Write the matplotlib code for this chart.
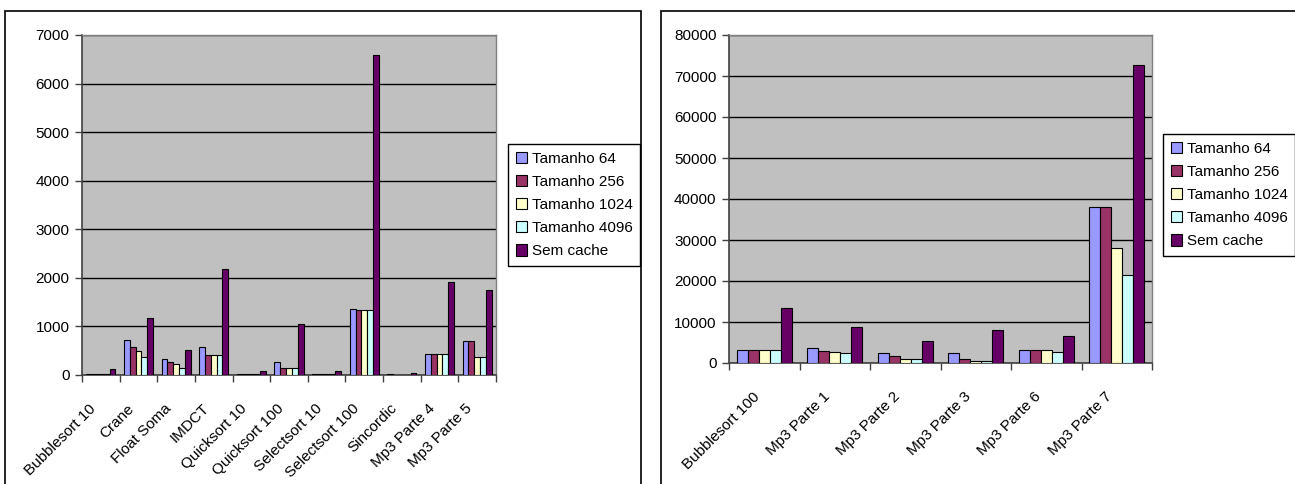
import numpy as np
import matplotlib.pyplot as plt
from matplotlib.patches import Rectangle
from matplotlib.transforms import ScaledTranslation

plt.rcParams['font.family'] = ['Liberation Sans', 'DejaVu Sans']

# Dados - grafico da esquerda
categorias_esq = ['Bubblesort 10', 'Crane', 'Float Soma', 'IMDCT', 'Quicksort 10',
                  'Quicksort 100', 'Selectsort 10', 'Selectsort 100', 'Sincordic',
                  'Mp3 Parte 4', 'Mp3 Parte 5']
t64_esq = [20, 720, 320, 585, 20, 275, 20, 1365, 15, 430, 700]
t256_esq = [20, 585, 275, 405, 20, 135, 20, 1345, 0, 430, 700]
t1024_esq = [20, 500, 220, 405, 20, 135, 20, 1345, 0, 430, 375]
t4096_esq = [20, 375, 150, 405, 20, 135, 20, 1345, 0, 430, 375]
sem_cache_esq = [115, 1170, 515, 2180, 75, 1040, 90, 6590, 45, 1910, 1750]

# Dados - grafico da direita
categorias_dir = ['Bubblesort 100', 'Mp3 Parte 1', 'Mp3 Parte 2', 'Mp3 Parte 3',
                  'Mp3 Parte 6', 'Mp3 Parte 7']
t64_dir = [3250, 3550, 2450, 2450, 3250, 38100]
t256_dir = [3250, 3000, 1600, 1050, 3250, 38100]
t1024_dir = [3250, 2650, 950, 450, 3250, 28050]
t4096_dir = [3250, 2450, 950, 450, 2700, 21500]
sem_cache_dir = [13300, 8850, 5250, 8050, 6650, 72600]

nomes = ['Tamanho 64', 'Tamanho 256', 'Tamanho 1024', 'Tamanho 4096', 'Sem cache']
cores = ['#9999FF', '#993366', '#FFFFCC', '#CCFFFF', '#660066']

W, H = 1295, 484
fig = plt.figure(figsize=(W / 100, H / 100), dpi=100)


def grafico(ax, categorias, series, ymax, passo):
    n = len(categorias)
    x = np.arange(n)
    largura = 0.155
    for i, (valores, nome, cor) in enumerate(zip(series, nomes, cores)):
        ax.bar(x + (i - 2) * largura, valores, largura, color=cor, edgecolor='black',
               linewidth=0.8, label=nome, zorder=3)
    ax.set_facecolor('#C0C0C0')
    ax.set_xlim(-0.5, n - 0.5)
    ax.set_ylim(0, ymax)
    ax.set_yticks(np.arange(0, ymax + 1, passo))
    ax.yaxis.grid(True, color='black', linewidth=1, zorder=1)
    ax.set_axisbelow(True)
    ax.tick_params(axis='y', direction='out', length=5, width=1, color='#404040',
                   labelsize=11, pad=4)
    # rotulos no centro, marcas entre as categorias
    ax.set_xticks(x)
    ax.set_xticklabels(categorias, rotation=45, ha='right', rotation_mode='anchor',
                       fontsize=11)
    ax.tick_params(axis='x', which='major', length=0, pad=19)
    desloca = ScaledTranslation(-12 / 100, 0, fig.dpi_scale_trans)
    for rotulo in ax.get_xticklabels():
        rotulo.set_transform(rotulo.get_transform() + desloca)
    ax.set_xticks(np.arange(-0.5, n, 1), minor=True)
    ax.tick_params(axis='x', which='minor', direction='out', length=5, width=1,
                   color='#404040')
    for lado in ['left', 'bottom']:
        ax.spines[lado].set_color('#404040')
        ax.spines[lado].set_linewidth(1.2)
    for lado in ['top', 'right']:
        ax.spines[lado].set_color('#808080')
        ax.spines[lado].set_linewidth(1)


def legenda(ax, x, y):
    ax.legend(loc='upper left', bbox_to_anchor=(x / W, 1 - y / H),
              bbox_transform=fig.transFigure, fontsize=11, frameon=True,
              fancybox=False, edgecolor='black', framealpha=1, borderpad=0.5,
              labelspacing=0.6, handlelength=0.75, handleheight=0.75,
              handletextpad=0.3, borderaxespad=0)


ax1 = fig.add_axes([82 / W, 1 - 375 / H, (496 - 82) / W, (375 - 35) / H])
grafico(ax1, categorias_esq, [t64_esq, t256_esq, t1024_esq, t4096_esq, sem_cache_esq],
        7000, 1000)
legenda(ax1, 508, 144)

ax2 = fig.add_axes([729 / W, 1 - 363 / H, (1152 - 729) / W, (363 - 35) / H])
grafico(ax2, categorias_dir, [t64_dir, t256_dir, t1024_dir, t4096_dir, sem_cache_dir],
        80000, 10000)
legenda(ax2, 1163, 134)

# molduras dos dois graficos
fig.add_artist(Rectangle((5 / W, -0.1), (641 - 5) / W, 1.1 - 11 / H, transform=fig.transFigure,
                         fill=False, edgecolor='black', linewidth=1.2))
fig.add_artist(Rectangle((661 / W, -0.1), 0.6, 1.1 - 11 / H, transform=fig.transFigure,
                         fill=False, edgecolor='black', linewidth=1.2))

fig.savefig('out.png', dpi=100)
